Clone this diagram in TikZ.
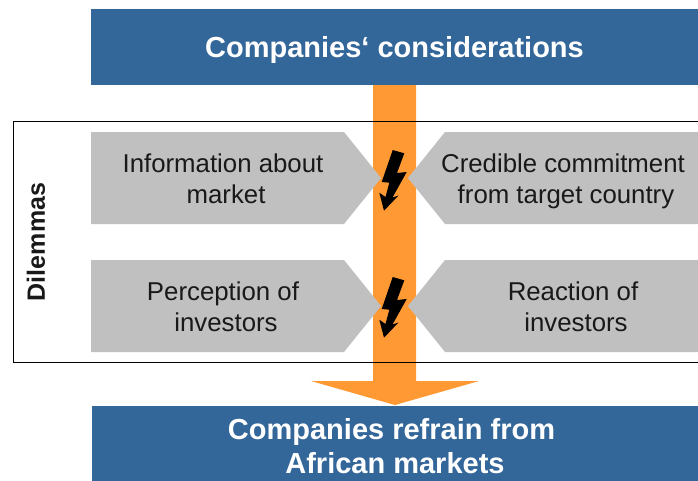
\documentclass[tikz,border=0pt]{standalone}
\usepackage{fontspec}
\setmainfont{Liberation Sans}
\definecolor{darkblue}{HTML}{336699}
\definecolor{dilemmagray}{HTML}{C0C0C0}
\definecolor{arroworange}{HTML}{FF9933}
\begin{document}
\begin{tikzpicture}[x=1pt,y=-1pt]
    \tikzstyle{banner}=[fill=darkblue,draw=none,minimum height=76pt,text=white,font=\fontsize{29}{34}\selectfont\bfseries,align=center,inner sep=0pt]
    \tikzstyle{label_node}=[font=\fontsize{25.8}{31}\selectfont,align=center,inner sep=0pt,text=black!90]
    \tikzstyle{tile}=[fill=dilemmagray,draw=none]
    \tikzstyle{bolt}=[fill=black,draw=none]
    \useasboundingbox (0,0) rectangle (698,480);
    \fill[white] (0,0) rectangle (698,480);

    \fill[arroworange] (373,85) -- (416,85) -- (416,381) -- (479,381) -- (395,405) -- (311,381) -- (373,381) -- cycle;

    \path[tile] (91,132) -- (344,132) -- (381,178) -- (344,224) -- (91,224) -- cycle;
    \path[tile] (91,260) -- (344,260) -- (381,306) -- (344,352) -- (91,352) -- cycle;
    \path[tile] (698,132) -- (445,132) -- (408,178) -- (445,224) -- (698,224) -- cycle;
    \path[tile] (698,260) -- (445,260) -- (408,306) -- (445,352) -- (698,352) -- cycle;

    \node[banner,minimum width=607pt,text depth=0pt] (top) at (394.5,47) {Companies‘ considerations};
    \node[banner,minimum width=606pt,minimum height=75pt] (bottom) at (395,443) {};
    \node[label_node,font=\fontsize{29}{34}\selectfont\bfseries,text=white] (bottomtext) at (395,446) {Companies refrain from\hspace*{7pt}\\African markets};

    \draw[black,line width=.8pt] (698,121.5) -- (13.5,121.5) -- (13.5,362.5) -- (698,362.5);

    \node[label_node] (info) at (223,179) {Information about\\\hspace*{6pt}market};
    \node[label_node] (credible) at (563,181) {Credible commitment\\\hspace*{6pt}from target country};
    \node[label_node] (perception) at (223,307) {Perception of\\\hspace*{6pt}investors};
    \node[label_node] (reaction) at (573,307) {Reaction of\\\hspace*{6pt}investors};
    \node[label_node,rotate=90,font=\fontsize{25}{30}\selectfont\bfseries] (dilemmas) at (36,242) {Dilemmas};

    % lightning marks
    \foreach \dy in {0,127}{
        \path[bolt,yshift=-\dy pt] (392.7,150) -- (404.3,153.3) -- (397,173) -- (406.7,172) -- (392.5,197.5) -- (398.5,195.5) -- (384,210.7) -- (379.3,192.7) -- (385.5,197) -- (389.3,182.7) -- (381.7,182) -- cycle;
    }
\end{tikzpicture}
\end{document}
